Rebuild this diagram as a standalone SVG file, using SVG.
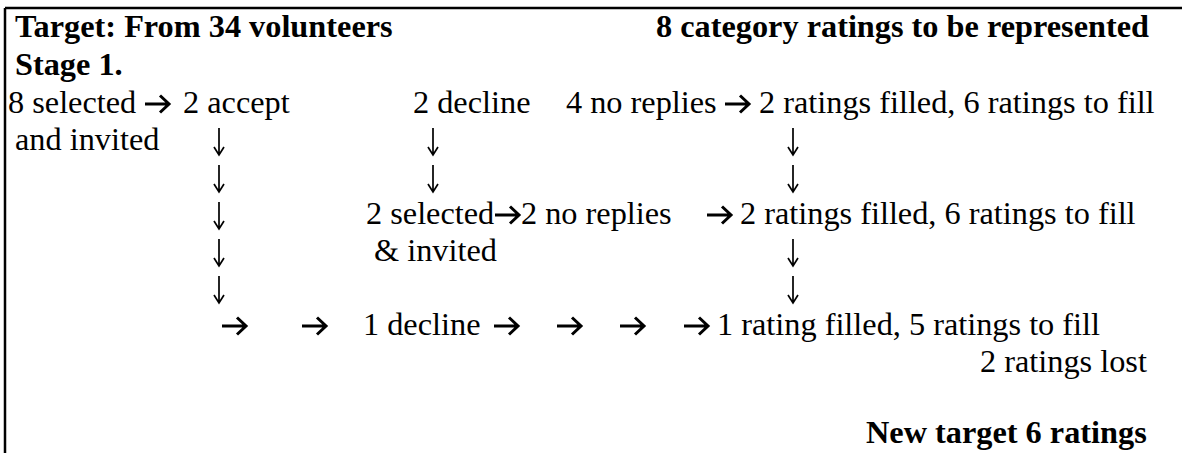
<svg xmlns="http://www.w3.org/2000/svg" width="1182" height="453" viewBox="0 0 1182 453">
<style>
.t{font-family:"Liberation Serif","Times New Roman",serif;font-size:32.3px;fill:#000}
.b{font-weight:bold}
.frame{stroke:#000;stroke-width:2.5;fill:none}
.ar{stroke:#000;fill:none;stroke-width:3;stroke-linejoin:miter;stroke-linecap:butt}
.dn{stroke:#000;fill:none;stroke-width:1.7;stroke-linejoin:miter}
</style>
<defs>
<g id="ra"><path class="ar" d="M0,0 H24 M15,-8.5 L24,0 L15,8.5"/></g>
<g id="da"><path class="dn" d="M0,-27 V0 M-5,-8 L0,0 L5,-8"/></g>
</defs>
<rect width="1182" height="453" fill="#fff"/>
<g id="frame">
<path class="frame" d="M5,8 H1182 M5,8 V453"/>
</g>
<g id="header">
<text class="t b" x="15" y="37">Target: From 34 volunteers</text>
<text class="t b" x="656" y="37">8 category ratings to be represented</text>
<text class="t b" x="15" y="75">Stage 1.</text>
</g>
<g id="n-selected"><text class="t" x="8" y="113">8 selected</text><text class="t" x="15" y="150">and invited</text></g>
<g id="n-accept"><text class="t" x="183" y="113">2 accept</text></g>
<g id="n-decline"><text class="t" x="413" y="113">2 decline</text></g>
<g id="n-noreplies"><text class="t" x="566" y="113">4 no replies</text></g>
<g id="n-result1"><text class="t" x="759" y="113">2 ratings filled, 6 ratings to fill</text></g>
<g id="n-selected2"><text class="t" x="366" y="224">2 selected</text><text class="t" x="374" y="261">&amp; invited</text></g>
<g id="n-noreplies2"><text class="t" x="521" y="224">2 no replies</text></g>
<g id="n-result2"><text class="t" x="740" y="224">2 ratings filled, 6 ratings to fill</text></g>
<g id="n-decline2"><text class="t" x="363" y="335">1 decline</text></g>
<g id="n-result3"><text class="t" x="717" y="335">1 rating filled, 5 ratings to fill</text><text class="t" x="980" y="372">2 ratings lost</text></g>
<g id="n-newtarget"><text class="t b" x="866" y="443">New target 6 ratings</text></g>
<g id="connectors">
<use href="#ra" x="145" y="104"/>
<use href="#ra" x="725" y="104"/>
<use href="#ra" x="495" y="215"/>
<use href="#ra" x="707" y="215"/>
<use href="#ra" x="222" y="326"/>
<use href="#ra" x="302" y="326"/>
<use href="#ra" x="494" y="326"/>
<use href="#ra" x="557" y="326"/>
<use href="#ra" x="620" y="326"/>
<use href="#ra" x="684" y="326"/>
<use href="#da" x="219" y="155"/>
<use href="#da" x="219" y="192"/>
<use href="#da" x="219" y="229"/>
<use href="#da" x="219" y="266"/>
<use href="#da" x="219" y="303"/>
<use href="#da" x="433" y="155"/>
<use href="#da" x="433" y="192"/>
<use href="#da" x="793" y="155"/>
<use href="#da" x="793" y="192"/>
<use href="#da" x="793" y="266"/>
<use href="#da" x="793" y="303"/>
</g>
</svg>
